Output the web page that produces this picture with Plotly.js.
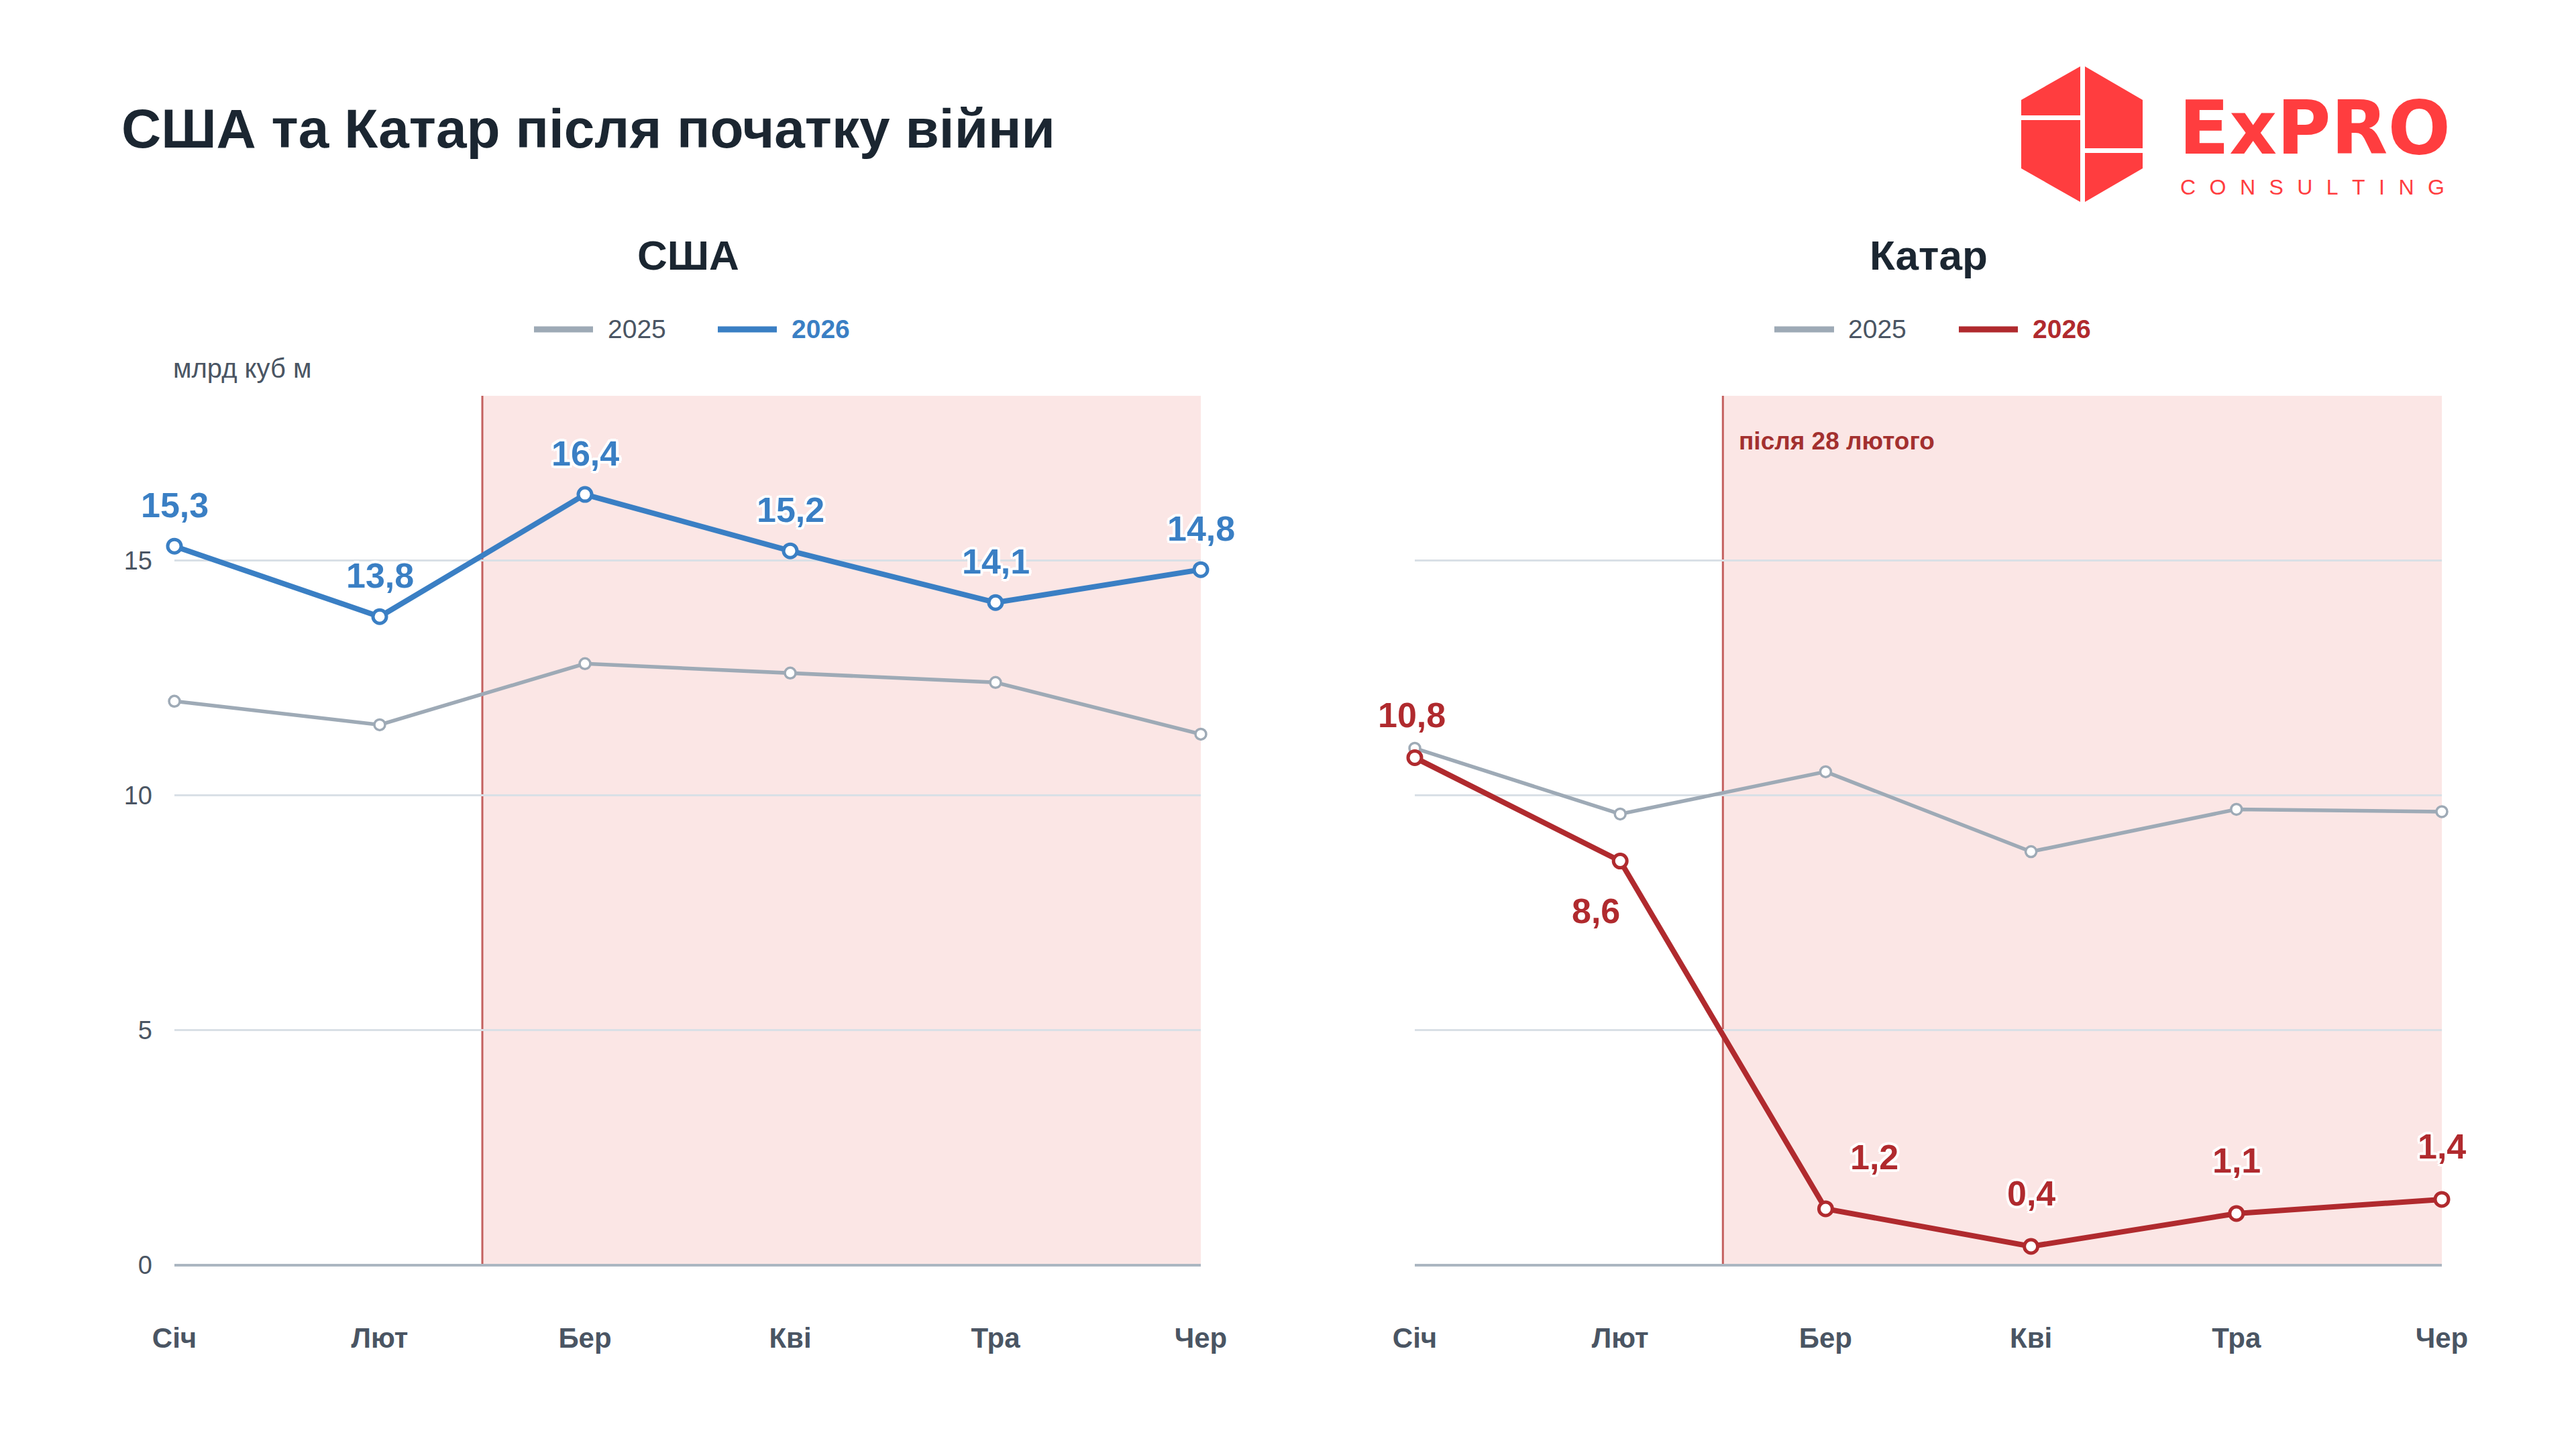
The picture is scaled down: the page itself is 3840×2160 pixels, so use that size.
<!DOCTYPE html>
<html>
<head>
<meta charset="utf-8">
<script src="https://cdn.plot.ly/plotly-3.0.1.min.js"></script>
<style>
html,body{margin:0;padding:0;background:#fff;}
#chart{width:3840px;height:2160px;}
</style>
</head>
<body>
<div id="chart"></div>
<script>
// ---- data ----
const months = ["Січ", "Лют", "Бер", "Кві", "Тра", "Чер"];
const usa2025 = [12.0, 11.5, 12.8, 12.6, 12.4, 11.3];
const usa2026 = [15.3, 13.8, 16.4, 15.2, 14.1, 14.8];
const qatar2025 = [11.0, 9.6, 10.5, 8.8, 9.7, 9.65];
const qatar2026 = [10.8, 8.6, 1.2, 0.4, 1.1, 1.4];
const seriesNames = ["2025", "2026"];
const yTickVals = [0, 5, 10, 15];
const warStart = 1.5; // position between Лют and Бер (after 28 Feb)

// ---- styles ----
const FONT = "Liberation Sans, Arial, sans-serif";
const GRAY = "#9eaab6";
const BLUE = "#3a7fc4";
const RED = "#b02a2e";
const AXIS_TXT = "#4a5563";
const SHADE = "#fbe6e5";
const VLINE = "#c4605f";
const HALO = "3px 3px 0 #fff, -3px -3px 0 #fff, 3px -3px 0 #fff, -3px 3px 0 #fff, 0 4px 0 #fff, 0 -4px 0 #fff, 4px 0 0 #fff, -4px 0 0 #fff";

// label offsets (pixels) for 2026 value labels
const usaLabelShift = [[0,61],[0,61],[0,61],[0,61],[0,61],[0,61]];
const qatarLabelShift = [[-5,63],[-36,-74],[73,77],[0,79],[0,79],[0,79]];

function fmt(v){ return String(v).replace(".", ","); }

function lineTrace(x, y, color, width, msize, mline, xa, ya){
  return {
    type: "scatter", mode: "lines+markers", x: x, y: y, xaxis: xa, yaxis: ya,
    line: {color: color, width: width},
    marker: {size: msize, color: "#ffffff", line: {color: color, width: mline}},
    cliponaxis: false, hoverinfo: "skip", showlegend: false
  };
}

const traces = [
  lineTrace(months, usa2025, GRAY, 5.5, 16, 3.5, "x", "y"),
  lineTrace(months, usa2026, BLUE, 8, 20, 5, "x", "y"),
  lineTrace(months, qatar2025, GRAY, 5.5, 16, 3.5, "x2", "y2"),
  lineTrace(months, qatar2026, RED, 8, 20, 5, "x2", "y2")
];

const annotations = [];
function addLabels(vals, color, shifts, xref, yref){
  vals.forEach((v, i) => {
    annotations.push({
      x: months[i], y: v, xref: xref, yref: yref, text: fmt(v), showarrow: false,
      xshift: shifts[i][0], yshift: shifts[i][1],
      font: {family: FONT, size: 52, color: color, weight: "bold", shadow: HALO}
    });
  });
}
addLabels(usa2026, BLUE, usaLabelShift, "x", "y");
addLabels(qatar2026, RED, qatarLabelShift, "x2", "y2");

function P(px){ return px / 3840; }
function Q(py){ return 1 - py / 2160; }

// subplot titles
annotations.push({x: P(1026), y: Q(380), xref: "paper", yref: "paper", text: "США", showarrow: false,
  xanchor: "center", yanchor: "middle", font: {family: FONT, size: 62, color: "#1b2631", weight: "bold"}});
annotations.push({x: P(2875), y: Q(380), xref: "paper", yref: "paper", text: "Катар", showarrow: false,
  xanchor: "center", yanchor: "middle", font: {family: FONT, size: 62, color: "#1b2631", weight: "bold"}});

// unit label
annotations.push({x: P(256), y: Q(549), xref: "paper", yref: "paper", text: "млрд куб м", showarrow: false,
  xanchor: "left", yanchor: "middle", font: {family: FONT, size: 40, color: AXIS_TXT}});

// event label
annotations.push({x: warStart, y: Q(657), xref: "x2", yref: "paper", xshift: 22, text: "після 28 лютого", showarrow: false,
  xanchor: "left", yanchor: "middle", font: {family: FONT, size: 37, color: "#a3302f", weight: "bold"}});

// custom legends
const legendY = Q(491);
const legends = [
  {x0: 796, x1: 884, tx: 904, color: GRAY, text: seriesNames[0], tcolor: AXIS_TXT, bold: false},
  {x0: 1070, x1: 1158, tx: 1178, color: BLUE, text: seriesNames[1], tcolor: BLUE, bold: true},
  {x0: 2645, x1: 2734, tx: 2753, color: GRAY, text: seriesNames[0], tcolor: AXIS_TXT, bold: false},
  {x0: 2920, x1: 3008, tx: 3028, color: RED, text: seriesNames[1], tcolor: RED, bold: true}
];
const shapes = [];
legends.forEach(l => {
  shapes.push({type: "line", xref: "paper", yref: "paper", x0: P(l.x0), x1: P(l.x1), y0: legendY, y1: legendY,
    line: {color: l.color, width: 9}});
  annotations.push({x: P(l.tx), y: legendY, xref: "paper", yref: "paper", text: l.text, showarrow: false,
    xanchor: "left", yanchor: "middle",
    font: {family: FONT, size: 39, color: l.tcolor, weight: l.bold ? "bold" : "normal"}});
});

// shaded war period + vertical marker line
[["x","y"],["x2","y2"]].forEach(([xa, ya]) => {
  shapes.push({type: "rect", xref: xa, yref: ya + " domain", x0: warStart, x1: months.length - 1, y0: 0, y1: 1,
    fillcolor: SHADE, line: {width: 0}, layer: "below"});
  shapes.push({type: "line", xref: xa, yref: ya + " domain", x0: warStart, x1: warStart, y0: 0, y1: 1,
    line: {color: VLINE, width: 3}, layer: "below"});
});

// logo (hexagon pieces)
function poly(pts){
  return "M " + pts.map(p => P(p[0]) + "," + Q(p[1])).join(" L ") + " Z";
}
const LOGO = "#ff3d3f";
[
  [[3101,99],[3013,149],[3013,172],[3101,172]],
  [[3013,179],[3101,179],[3101,301],[3013,251]],
  [[3108,99],[3194,149],[3194,221],[3108,221]],
  [[3108,228],[3194,228],[3194,251],[3108,301]]
].forEach(pts => shapes.push({type: "path", xref: "paper", yref: "paper", path: poly(pts),
  fillcolor: LOGO, line: {width: 0}}));
annotations.push({x: P(3246), y: Q(257), xref: "paper", yref: "paper", text: "ExPRO", showarrow: false,
  xanchor: "left", yanchor: "bottom", font: {family: "DejaVu Sans, sans-serif", size: 110, color: LOGO, weight: "bold"}});
const SEP = "\u00a0\u00a0\u200a";
annotations.push({x: P(3248), y: Q(259), xref: "paper", yref: "paper",
  text: ["C","O","N","S","U","L","T","I","N","G"].join(SEP), showarrow: false,
  xanchor: "left", yanchor: "top", font: {family: FONT, size: 32, color: LOGO}});

const xAxisBase = {
  type: "category", range: [0, months.length - 1], showgrid: false, zeroline: false, showline: false,
  ticks: "", ticklabelstandoff: 80, tickfont: {family: FONT, size: 42, color: AXIS_TXT, weight: "bold"},
  fixedrange: true
};
const yAxisBase = {
  range: [0, 18.5], tickvals: yTickVals, showgrid: true, gridcolor: "#d9e0e6", gridwidth: 3,
  zeroline: true, zerolinecolor: "#abb6c1", zerolinewidth: 4, showline: false, ticks: "",
  tickfont: {family: FONT, size: 38, color: AXIS_TXT}, fixedrange: true
};

const layout = {
  width: 3840, height: 2160, paper_bgcolor: "#ffffff", plot_bgcolor: "rgba(0,0,0,0)",
  margin: {l: 0, r: 0, t: 0, b: 0}, showlegend: false,
  title: {text: "США та Катар після початку війни", x: P(181), xref: "paper", xanchor: "left",
    y: Q(191), yref: "paper", yanchor: "middle",
    font: {family: FONT, size: 82, color: "#1b2631", weight: "bold"}},
  xaxis: Object.assign({}, xAxisBase, {domain: [P(260), P(1790)], anchor: "y"}),
  yaxis: Object.assign({}, yAxisBase, {domain: [Q(1886), Q(590)], anchor: "x", ticklabelstandoff: 32}),
  xaxis2: Object.assign({}, xAxisBase, {domain: [P(2109), P(3640)], anchor: "y2"}),
  yaxis2: Object.assign({}, yAxisBase, {domain: [Q(1886), Q(590)], anchor: "x2", showticklabels: false}),
  shapes: shapes, annotations: annotations, hovermode: false
};

Plotly.newPlot("chart", traces, layout, {displayModeBar: false, staticPlot: true});
</script>
</body>
</html>
